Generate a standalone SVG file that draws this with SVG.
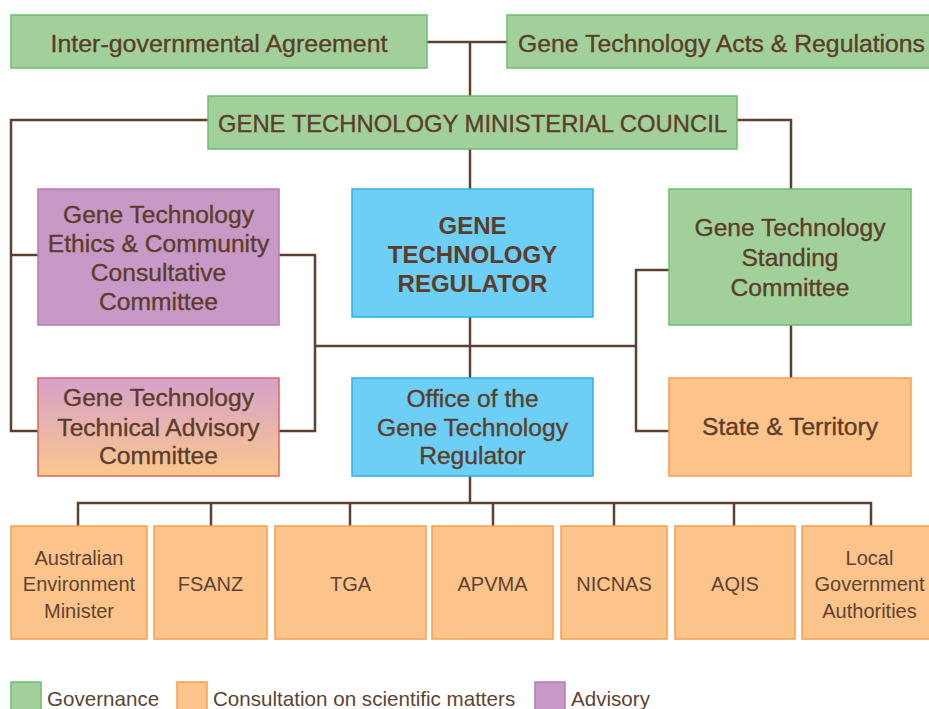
<svg xmlns="http://www.w3.org/2000/svg" width="929" height="709" viewBox="0 0 929 709">
<defs>
<linearGradient id="tacGrad" x1="0" y1="0" x2="0" y2="1">
<stop offset="0" stop-color="#d5a1cb"/>
<stop offset="1" stop-color="#fbc78d"/>
</linearGradient>
</defs>
<style>
.gov{fill:#a2d09b;stroke:#6cbf6c;stroke-width:1.5}
.adv{fill:#c898c6;stroke:#b87ab5;stroke-width:1.5}
.reg{fill:#6dcff6;stroke:#2eb1e6;stroke-width:1.5}
.con{fill:#fcc38a;stroke:#f6a04d;stroke-width:1.5}
.tac{fill:url(#tacGrad);stroke:#e3625e;stroke-width:1.5}
text{font-family:"Liberation Sans",Arial,sans-serif;fill:#5b3d2a;text-anchor:middle}
.t24{font-size:24.6px;stroke:#5b3d2a;stroke-width:0.35}
.c24{font-size:24px;stroke:#5b3d2a;stroke-width:0.35}
.b24{font-size:24px;font-weight:bold}
.t20{font-size:20px;fill:#5e4332}
.leg{font-size:20.6px;text-anchor:start;fill:#5e4332}
.ln{fill:none;stroke:#5e4030;stroke-width:2.5}
</style>
<g id="connectors">
<path class="ln" d="M427,42 H507 M470,42 V96"/>
<path class="ln" d="M208,120 H11 V431 H38 M11,255 H38"/>
<path class="ln" d="M737,120 H791 V189"/>
<path class="ln" d="M470,149 V189"/>
<path class="ln" d="M279,255 H315 V431 H279 M315,346 H636"/>
<path class="ln" d="M669,270 H636 V431 H669"/>
<path class="ln" d="M791,325 V378"/>
<path class="ln" d="M470,317 V378"/>
<path class="ln" d="M470,476 V503 M78,526 V503 H871 V526 M211,503 V526 M350,503 V526 M493,503 V526 M614,503 V526 M734,503 V526"/>
</g>
<g id="node-iga">
<rect class="gov" x="11" y="15" width="416" height="53"/>
<text class="t24" x="219" y="51.5" textLength="337" lengthAdjust="spacingAndGlyphs">Inter-governmental Agreement</text>
</g>
<g id="node-acts">
<rect class="gov" x="507" y="15" width="430" height="53"/>
<text class="t24" x="721.5" y="51.5" textLength="407" lengthAdjust="spacingAndGlyphs">Gene Technology Acts &amp; Regulations</text>
</g>
<g id="node-council">
<rect class="gov" x="208" y="96" width="529" height="53"/>
<text class="c24" x="472.5" y="131.5" textLength="509" lengthAdjust="spacingAndGlyphs">GENE TECHNOLOGY MINISTERIAL COUNCIL</text>
</g>
<g id="node-ethics">
<rect class="adv" x="38" y="189" width="241" height="136"/>
<text class="t24" x="158.5" y="223">Gene Technology</text>
<text class="t24" x="158.5" y="252">Ethics &amp; Community</text>
<text class="t24" x="158.5" y="281">Consultative</text>
<text class="t24" x="158.5" y="310">Committee</text>
</g>
<g id="node-regulator">
<rect class="reg" x="352" y="189" width="241" height="128"/>
<text class="b24" x="472.5" y="233.5">GENE</text>
<text class="b24" x="472.5" y="262.5">TECHNOLOGY</text>
<text class="b24" x="472.5" y="291.5">REGULATOR</text>
</g>
<g id="node-standing">
<rect class="gov" x="669" y="189" width="242" height="136"/>
<text class="t24" x="790" y="236">Gene Technology</text>
<text class="t24" x="790" y="266">Standing</text>
<text class="t24" x="790" y="295.5">Committee</text>
</g>
<g id="node-tac">
<rect class="tac" x="38" y="378" width="241" height="98"/>
<text class="t24" x="158.5" y="406">Gene Technology</text>
<text class="t24" x="158.5" y="435.5">Technical Advisory</text>
<text class="t24" x="158.5" y="464">Committee</text>
</g>
<g id="node-office">
<rect class="reg" x="352" y="378" width="241" height="98"/>
<text class="t24" x="472.5" y="406.5">Office of the</text>
<text class="t24" x="472.5" y="435.5">Gene Technology</text>
<text class="t24" x="472.5" y="464">Regulator</text>
</g>
<g id="node-state">
<rect class="con" x="669" y="378" width="242" height="98"/>
<text class="t24" x="790" y="435">State &amp; Territory</text>
</g>
<g id="node-aem">
<rect class="con" x="11" y="526" width="136" height="113"/>
<text class="t20" x="79" y="565">Australian</text>
<text class="t20" x="79" y="591">Environment</text>
<text class="t20" x="79" y="617.5">Minister</text>
</g>
<g id="node-fsanz">
<rect class="con" x="154" y="526" width="113" height="113"/>
<text class="t20" x="210.5" y="591">FSANZ</text>
</g>
<g id="node-tga">
<rect class="con" x="275" y="526" width="151" height="113"/>
<text class="t20" x="350.5" y="591">TGA</text>
</g>
<g id="node-apvma">
<rect class="con" x="432" y="526" width="121" height="113"/>
<text class="t20" x="492.5" y="591">APVMA</text>
</g>
<g id="node-nicnas">
<rect class="con" x="561" y="526" width="106" height="113"/>
<text class="t20" x="614" y="591">NICNAS</text>
</g>
<g id="node-aqis">
<rect class="con" x="675" y="526" width="120" height="113"/>
<text class="t20" x="735" y="591">AQIS</text>
</g>
<g id="node-lga">
<rect class="con" x="802" y="526" width="138" height="113"/>
<text class="t20" x="869.5" y="565">Local</text>
<text class="t20" x="869.5" y="591">Government</text>
<text class="t20" x="869.5" y="617.5">Authorities</text>
</g>
<g id="legend">
<rect class="gov" x="11" y="682" width="30" height="35"/>
<text class="leg" x="47" y="706">Governance</text>
<rect class="con" x="177" y="682" width="30" height="35"/>
<text class="leg" x="213" y="706">Consultation on scientific matters</text>
<rect class="adv" x="535" y="682" width="30" height="35"/>
<text class="leg" x="571" y="706">Advisory</text>
</g>
</svg>
